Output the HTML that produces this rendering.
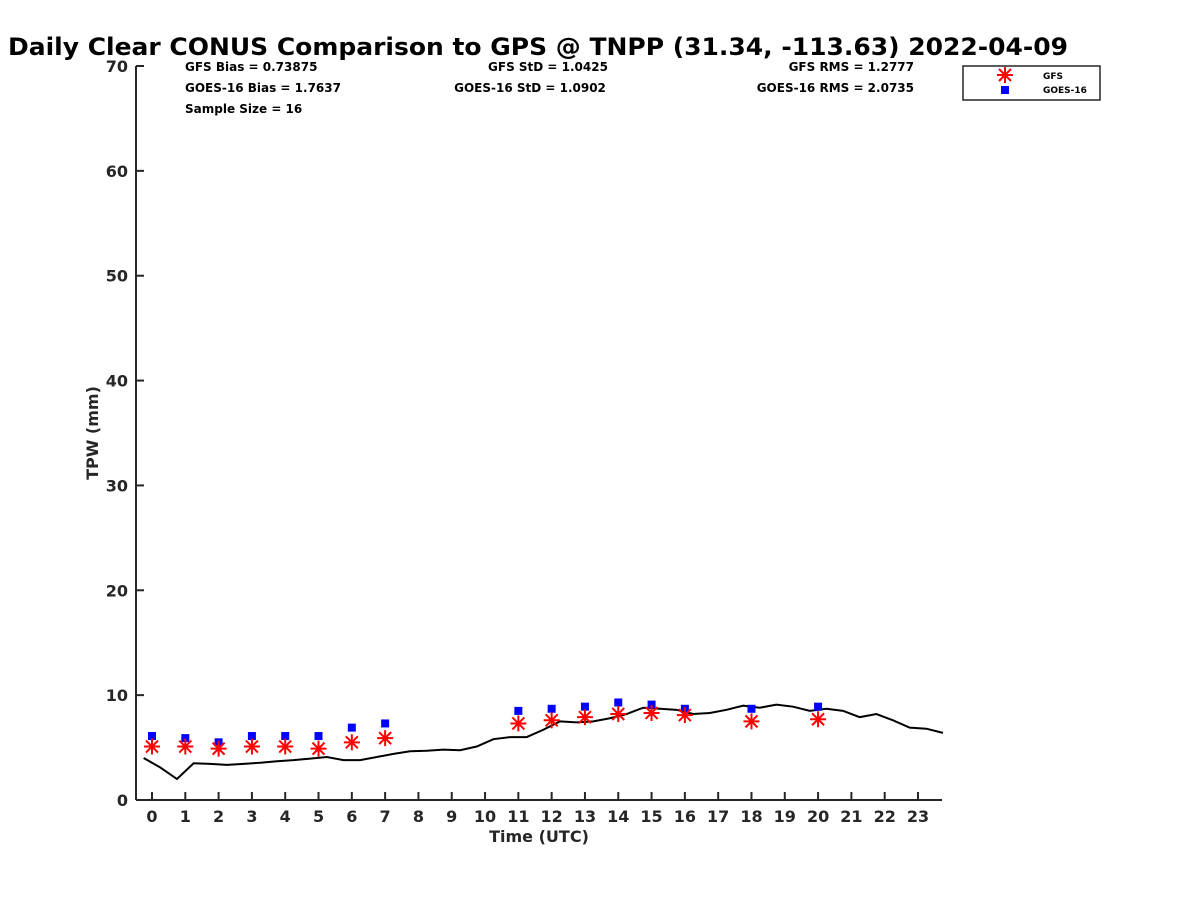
<!DOCTYPE html>
<html><head><meta charset="utf-8"><style>
body{margin:0;background:#fff;font-family:"Liberation Sans","DejaVu Sans",sans-serif;}
svg text{font-family:"DejaVu Sans","Liberation Sans",sans-serif;font-weight:bold;fill:#262626;}
</style></head><body>
<svg id="chart" width="1200" height="900" xmlns="http://www.w3.org/2000/svg">
<rect width="1200" height="900" fill="#fff"/>
<text x="8" y="55" font-size="24" textLength="1060" lengthAdjust="spacingAndGlyphs" style="fill:#000">Daily Clear CONUS Comparison to GPS @ TNPP (31.34, -113.63) 2022-04-09</text>
<g font-size="12">
<text x="185" y="71" style="fill:#000">GFS Bias = 0.73875</text>
<text x="185" y="92" style="fill:#000">GOES-16 Bias = 1.7637</text>
<text x="185" y="113" style="fill:#000">Sample Size = 16</text>
<text x="548" y="71" text-anchor="middle" style="fill:#000">GFS StD = 1.0425</text>
<text x="530" y="92" text-anchor="middle" style="fill:#000">GOES-16 StD = 1.0902</text>
<text x="914" y="71" text-anchor="end" style="fill:#000">GFS RMS = 1.2777</text>
<text x="914" y="92" text-anchor="end" style="fill:#000">GOES-16 RMS = 2.0735</text>
</g>
<g id="axes"></g>
<g id="marks"></g>
<g>
<rect x="963" y="66" width="137" height="34" fill="#fff" stroke="#262626" stroke-width="1.5"/>
<g stroke="red" stroke-width="2"><line x1="997" y1="75" x2="1013" y2="75"/><line x1="1005" y1="67" x2="1005" y2="83"/><line x1="999" y1="69" x2="1011" y2="81"/><line x1="999" y1="81" x2="1011" y2="69"/></g>
<rect x="1001" y="86" width="8" height="8" fill="#0000ff"/>
<text x="1043" y="79" font-size="9" style="fill:#000">GFS</text>
<text x="1043" y="93" font-size="9" style="fill:#000">GOES-16</text>
</g>
</svg>
<script>
const gpsTimes=[-0.25,0.25,0.75,1.25,1.75,2.25,2.75,3.25,3.75,4.25,4.75,5.25,5.75,6.25,6.75,7.25,7.75,8.25,8.75,9.25,9.75,10.25,10.75,11.25,11.75,12.25,12.75,13.25,13.75,14.25,14.75,15.25,15.75,16.25,16.75,17.25,17.75,18.25,18.75,19.25,19.75,20.25,20.75,21.25,21.75,22.25,22.75,23.25,23.75];
const gpsValues=[4.0,3.1,2.0,3.5,3.45,3.35,3.45,3.55,3.7,3.8,3.95,4.1,3.8,3.8,4.1,4.4,4.65,4.7,4.8,4.75,5.1,5.8,6.0,6.0,6.7,7.5,7.4,7.5,7.8,8.2,8.8,8.7,8.6,8.2,8.3,8.6,9.0,8.8,9.1,8.9,8.5,8.7,8.5,7.9,8.2,7.6,6.9,6.8,6.4];
const modelHours=[0,1,2,3,4,5,6,7,11,12,13,14,15,16,18,20];
const gfsValues=[5.1,5.1,4.9,5.1,5.1,4.9,5.5,5.9,7.3,7.6,7.9,8.2,8.3,8.1,7.5,7.7];
const goesValues=[6.1,5.9,5.5,6.1,6.1,6.1,6.9,7.3,8.5,8.7,8.9,9.3,9.1,8.7,8.7,8.9];
const yTicks=[0,10,20,30,40,50,60,70];
const xTicks=[0,1,2,3,4,5,6,7,8,9,10,11,12,13,14,15,16,17,18,19,20,21,22,23];
const X=h=>152+h*(918-152)/23;
const Y=v=>800-v*(800-66)/70;
const NS="http://www.w3.org/2000/svg";
function mk(tag,attrs,parent){const e=document.createElementNS(NS,tag);for(const k in attrs)e.setAttribute(k,attrs[k]);parent.appendChild(e);return e;}
const ax=document.getElementById('axes'),mg=document.getElementById('marks');
let a=mk('line',{x1:136,y1:800,x2:942,y2:800,stroke:'#262626','stroke-width':2},ax);


a=mk('line',{x1:136,y1:66,x2:136,y2:800,stroke:'#262626','stroke-width':2},ax);


yTicks.forEach(v=>{mk('line',{x1:136,y1:Y(v),x2:144,y2:Y(v),stroke:'#262626','stroke-width':2},ax);
const t=mk('text',{x:128,y:Y(v)+6,'text-anchor':'end','font-size':16},ax);t.textContent=v;

});
xTicks.forEach(h=>{mk('line',{x1:X(h),y1:800,x2:X(h),y2:792,stroke:'#262626','stroke-width':2},ax);
const t=mk('text',{x:X(h),y:822,'text-anchor':'middle','font-size':16},ax);t.textContent=h;

});
let t=mk('text',{x:539,y:842,'text-anchor':'middle','font-size':16},ax);t.textContent='Time (UTC)';


t=mk('text',{x:98,y:433,'text-anchor':'middle','font-size':16,transform:'rotate(-90 98 433)'},ax);t.textContent='TPW (mm)';


const line=mk('polyline',{points:gpsTimes.map((h,i)=>X(h)+','+Y(gpsValues[i])).join(' '),fill:'none',stroke:'#000','stroke-width':2},mg);


modelHours.forEach((h,i)=>{const x=X(h),y=Y(goesValues[i]);
const r=mk('rect',{x:x-4,y:y-4,width:8,height:8,fill:'#0000ff'},mg);

});
modelHours.forEach((h,i)=>{const x=X(h),y=Y(gfsValues[i]);
const g=mk('g',{stroke:'red','stroke-width':2},mg);


mk('line',{x1:x-8,y1:y,x2:x+8,y2:y},g);mk('line',{x1:x,y1:y-8,x2:x,y2:y+8},g);
mk('line',{x1:x-6,y1:y-6,x2:x+6,y2:y+6},g);mk('line',{x1:x-6,y1:y+6,x2:x+6,y2:y-6},g);});
</script>
</body></html>
